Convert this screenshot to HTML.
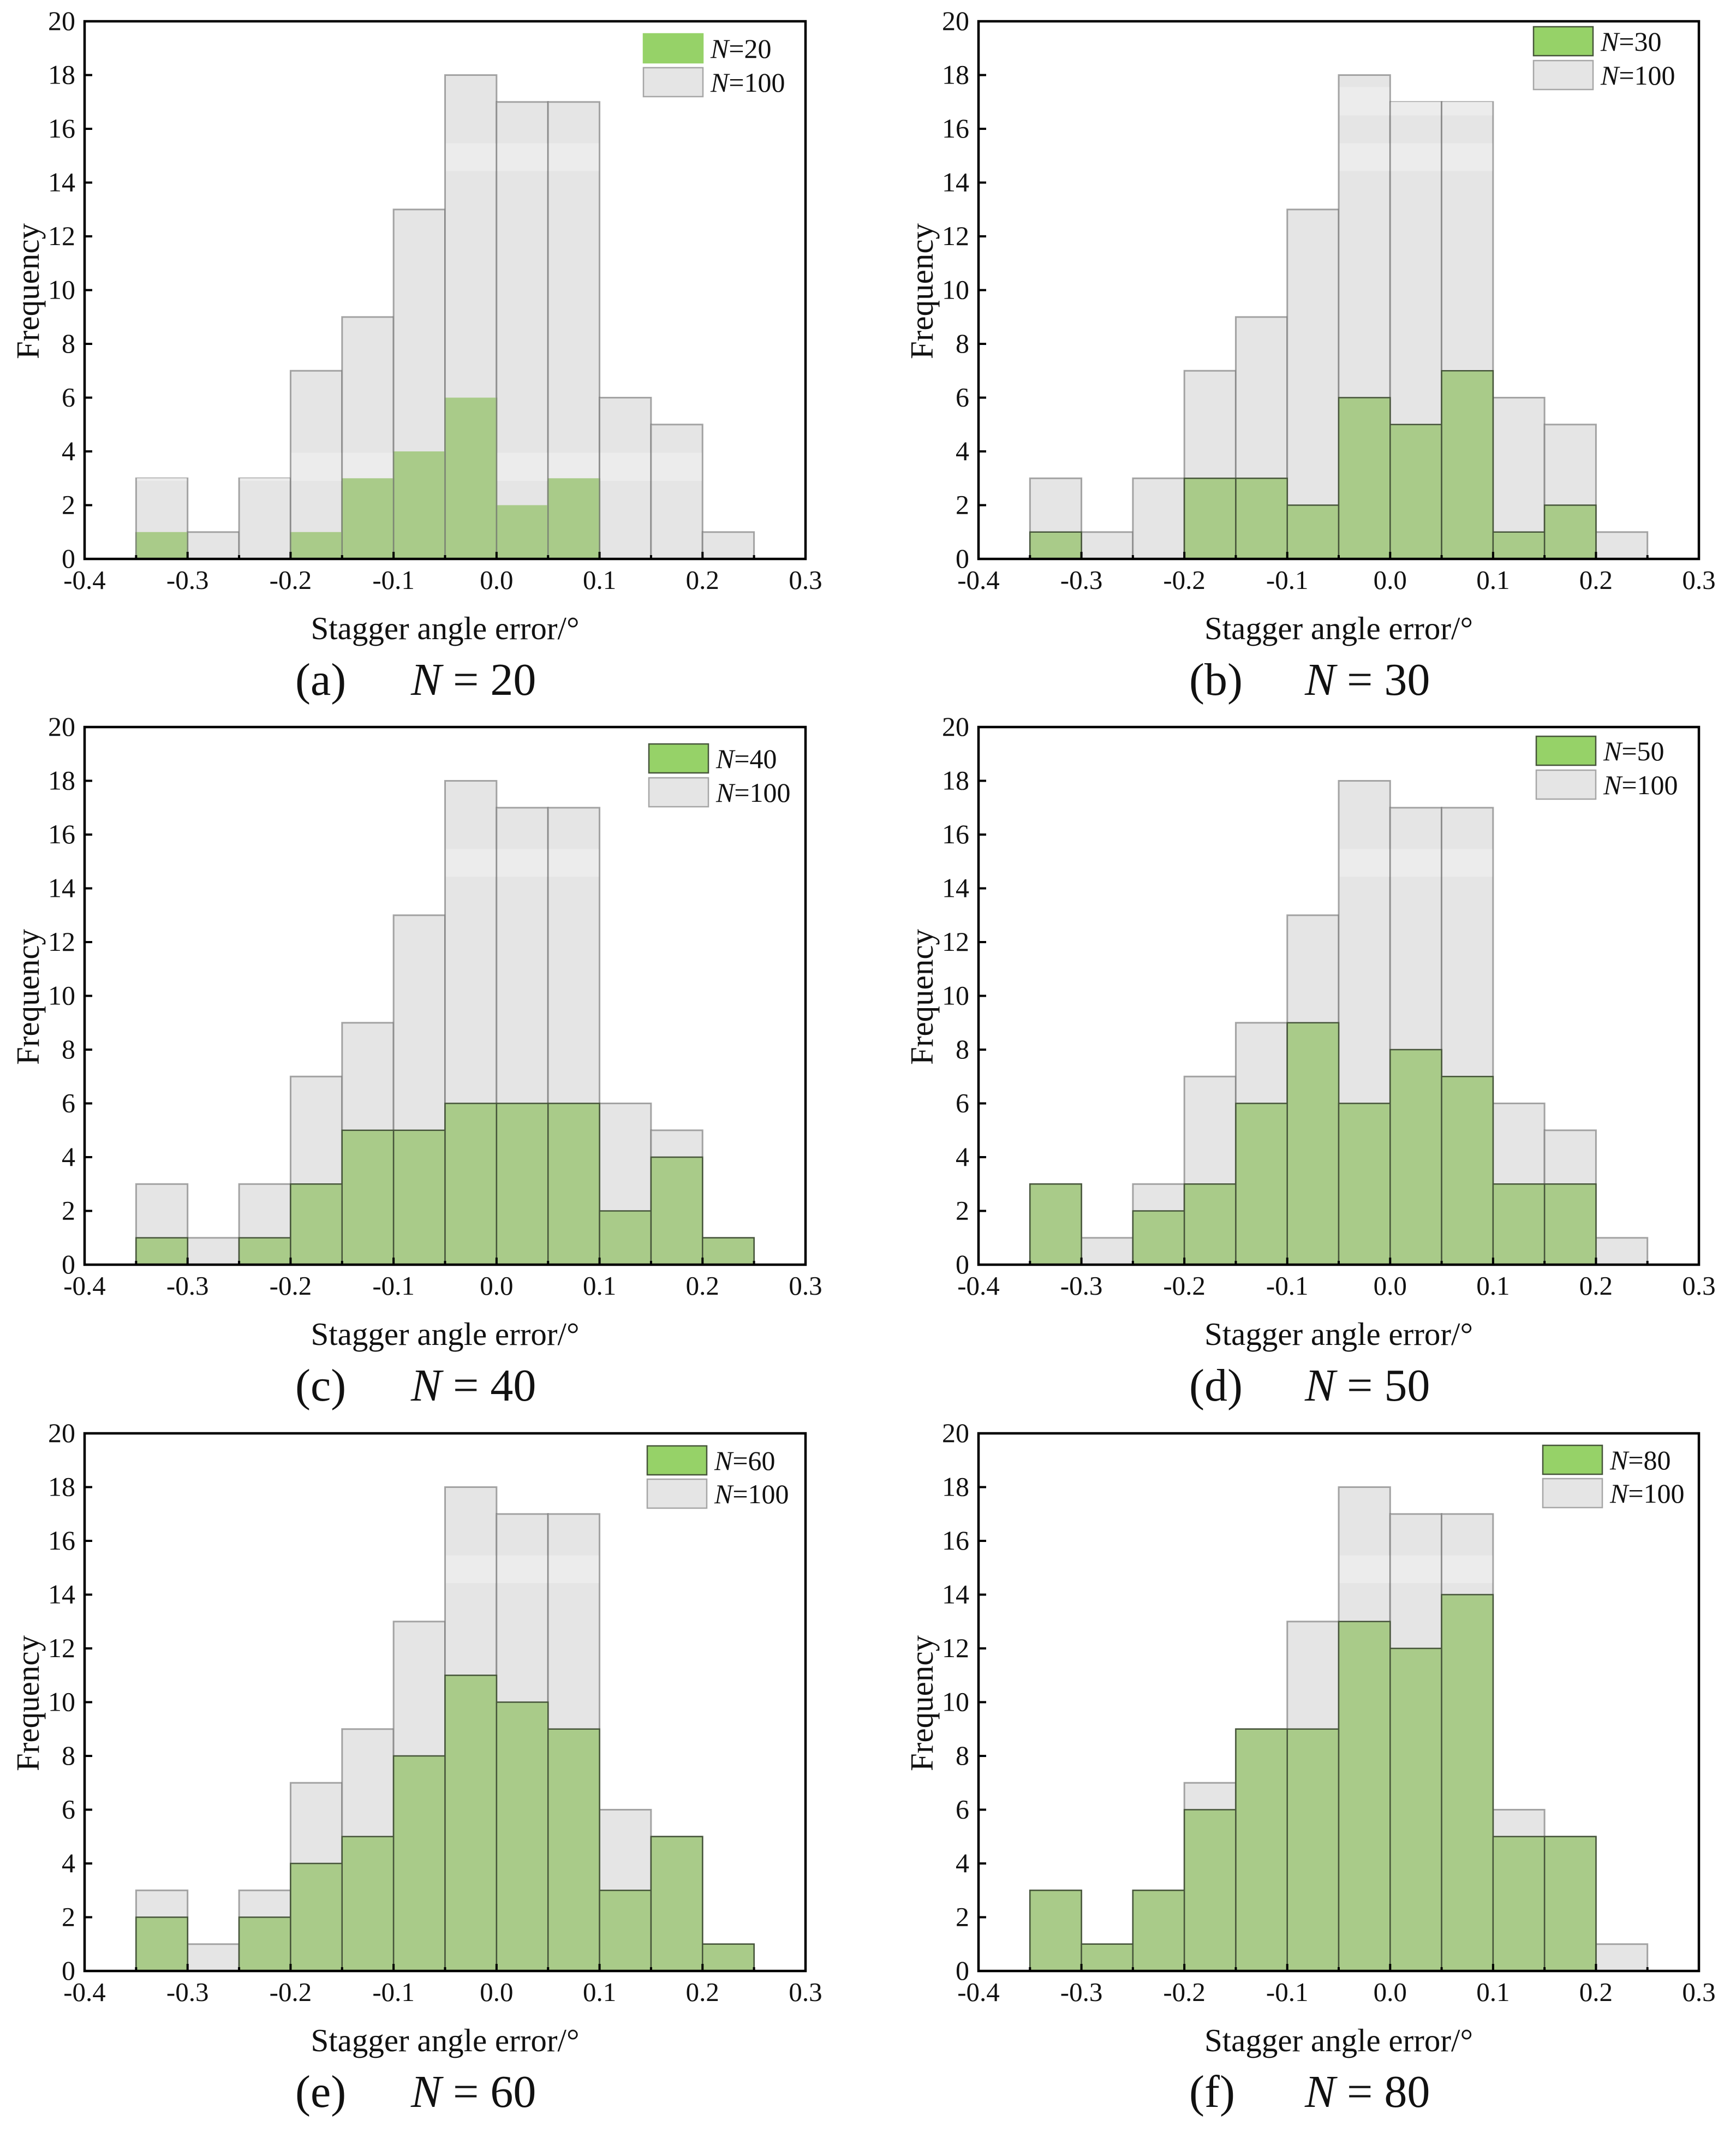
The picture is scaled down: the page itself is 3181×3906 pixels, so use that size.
<!DOCTYPE html>
<html lang="en">
<head>
<meta charset="utf-8">
<title>Stagger angle error histograms</title>
<style>
html,body{margin:0;padding:0;background:#fff;}
svg{display:block;}
text{font-family:"Liberation Serif",serif;fill:#111;}
</style>
</head>
<body>
<svg id="chart" xmlns="http://www.w3.org/2000/svg" width="3181" height="3906" viewBox="0 0 3181 3906"></svg>
<script>
const binStarts = [-0.35,-0.3,-0.25,-0.2,-0.15,-0.1,-0.05,0,0.05,0.1,0.15,0.2];
const binWidth = 0.05;
const referenceCounts = [3,1,3,7,9,13,18,17,17,6,5,1];
const countsN20 = [1,0,0,1,3,4,6,2,3,0,0,0];
const countsN30 = [1,0,0,3,3,2,6,5,7,1,2,0];
const countsN40 = [1,0,1,3,5,5,6,6,6,2,4,1];
const countsN50 = [3,0,2,3,6,9,6,8,7,3,3,0];
const countsN60 = [2,0,2,4,5,8,11,10,9,3,5,1];
const countsN80 = [3,1,3,6,9,9,13,12,14,5,5,0];
const xTickValues = [-0.4,-0.3,-0.2,-0.1,0,0.1,0.2,0.3];
const xTickLabels = ["-0.4","-0.3","-0.2","-0.1","0.0","0.1","0.2","0.3"];
const xMinorValues = [-0.35,-0.25,-0.15,-0.05,0.05,0.15,0.25];
const yTickValues = [0,2,4,6,8,10,12,14,16,18,20];
const xDomain = [-0.4,0.3];
const yDomain = [0,20];

const panels = [
  {id:"a",n:20,counts:countsN20,left:155,right:1476,top:39,bottom:1024,legendX:1178,legendY:61,legendY2:123,edge:"none",bands:[[14.43,15.46],[2.9,3.95]]},
  {id:"b",n:30,counts:countsN30,left:1793,right:3113,top:39,bottom:1024,legendX:2809,legendY:48,legendY2:110,edge:"#46553a",bands:[[14.43,15.46],[16.5,17.56]]},
  {id:"c",n:40,counts:countsN40,left:155,right:1476,top:1332,bottom:2317,legendX:1188,legendY:1362,legendY2:1424,edge:"#46553a",bands:[[14.43,15.46]]},
  {id:"d",n:50,counts:countsN50,left:1793,right:3113,top:1332,bottom:2317,legendX:2814,legendY:1348,legendY2:1410,edge:"#46553a",bands:[[14.43,15.46]]},
  {id:"e",n:60,counts:countsN60,left:155,right:1476,top:2626,bottom:3611,legendX:1185,legendY:2648,legendY2:2709,edge:"#46553a",bands:[[14.43,15.46]]},
  {id:"f",n:80,counts:countsN80,left:1793,right:3113,top:2626,bottom:3611,legendX:2826,legendY:2647,legendY2:2708,edge:"#46553a",bands:[[14.43,15.46]]}
];

const NS = "http://www.w3.org/2000/svg";
const root = document.getElementById("chart");

function make(tag, parent, attrs, content){
  const el = document.createElementNS(NS, tag);
  for (const k in attrs) el.setAttribute(k, attrs[k]);
  if (content !== undefined) el.textContent = content;
  parent.appendChild(el);
  return el;
}

panels.forEach(function(p){
  const xScale = function(v){ return p.left + (v - xDomain[0]) / (xDomain[1] - xDomain[0]) * (p.right - p.left); };
  const yScale = function(v){ return p.bottom - (v - yDomain[0]) / (yDomain[1] - yDomain[0]) * (p.bottom - p.top); };

  const g = make("g", root, {});
  
  

  referenceCounts.forEach(function(c, i){
    const r = make("rect", g, {x:xScale(binStarts[i]), y:yScale(c), width:xScale(binStarts[i]+binWidth)-xScale(binStarts[i]), height:yScale(0)-yScale(c), fill:"#e5e5e5", stroke:"#6e6e6e", "stroke-opacity":0.6, "stroke-width":3});
    
    
  });

  p.bands.forEach(function(b){
    referenceCounts.forEach(function(c, i){
      const lo = Math.max(b[0], p.counts[i]);
      const hi = Math.min(b[1], c);
      if (hi <= lo) return;
      const s = make("rect", g, {x:xScale(binStarts[i])+1.5, y:yScale(hi), width:xScale(binStarts[i]+binWidth)-xScale(binStarts[i])-3, height:yScale(lo)-yScale(hi), fill:"#ececec"});
      
      
    });
  });

  p.counts.forEach(function(c, i){
    if (c <= 0) return;
    const r = make("rect", g, {x:xScale(binStarts[i]), y:yScale(c), width:xScale(binStarts[i]+binWidth)-xScale(binStarts[i]), height:yScale(0)-yScale(c), fill:"#a9cb89", stroke:p.edge, "stroke-width":2.5});
    
    
  });

  if (p.edge === "none") {
    p.counts.forEach(function(c, i){
      if (c <= 0) return;
      const l = make("path", g, {d:"M"+xScale(binStarts[i])+" "+yScale(0)+"V"+yScale(c)+"M"+xScale(binStarts[i]+binWidth)+" "+yScale(0)+"V"+yScale(c), stroke:"#7d8775", "stroke-width":2.5, fill:"none"});
      
      
    });
  }

  xTickValues.forEach(function(v, i){
    const t = make("line", g, {x1:xScale(v), x2:xScale(v), y1:yScale(0), y2:yScale(0)-13, stroke:"#000", "stroke-width":4});
    
    
    const lab = make("text", g, {x:xScale(v), y:p.bottom+55, "text-anchor":"middle", "font-size":49}, xTickLabels[i]);
    
    
  });
  xMinorValues.forEach(function(v){
    const t = make("line", g, {x1:xScale(v), x2:xScale(v), y1:yScale(0), y2:yScale(0)-7, stroke:"#000", "stroke-width":4});
    
    
  });
  yTickValues.forEach(function(v){
    const t = make("line", g, {x1:p.left, x2:p.left+14, y1:yScale(v), y2:yScale(v), stroke:"#000", "stroke-width":4});
    
    
    const lab = make("text", g, {x:p.left-17, y:yScale(v)+16, "text-anchor":"end", "font-size":50}, String(v));
    
    
  });

  const frame = make("rect", g, {x:p.left, y:p.top, width:p.right-p.left, height:p.bottom-p.top, fill:"none", stroke:"#000", "stroke-width":4.5});
  
  

  const midY = (p.top + p.bottom) / 2 + 2;
  const yTitle = make("text", g, {transform:"translate("+(p.left-84)+" "+midY+") rotate(-90)", "text-anchor":"middle", "font-size":59}, "Frequency");
  
  

  const xTitle = make("text", g, {x:(p.left+p.right)/2, y:p.bottom+147, "text-anchor":"middle", "font-size":59}, "Stagger angle error/°");
  
  

  const capA = make("text", g, {x:p.left+386, y:p.bottom+249, "font-size":84}, "(" + p.id + ")");
  
  

  const capB = make("text", g, {x:p.left+598, y:p.bottom+249, "font-size":84}, "");
  
  
  make("tspan", capB, {"font-style":"italic"}, "N");
  make("tspan", capB, {}, " = " + p.n);

  const leg1 = make("rect", g, {x:p.legendX+1, y:p.legendY+1, width:109, height:53, fill:"#96d268", stroke:p.edge === "none" ? "#96d268" : p.edge, "stroke-width":2.5});
  
  
  const leg2 = make("rect", g, {x:p.legendX+1, y:p.legendY2+1, width:109, height:53, fill:"#e5e5e5", stroke:"#a6a6a6", "stroke-width":2.5});
  
  

  const t1 = make("text", g, {x:p.legendX+124, y:p.legendY+45, "font-size":50}, "");
  
  
  make("tspan", t1, {"font-style":"italic"}, "N");
  make("tspan", t1, {}, "=" + p.n);

  const t2 = make("text", g, {x:p.legendX+124, y:p.legendY2+45, "font-size":50}, "");
  
  
  make("tspan", t2, {"font-style":"italic"}, "N");
  make("tspan", t2, {}, "=100");
});
</script>
</body>
</html>
